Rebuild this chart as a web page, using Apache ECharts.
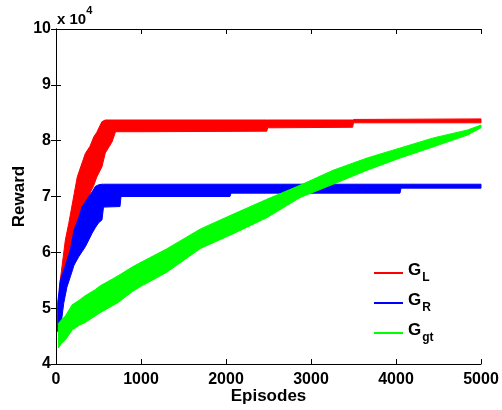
<!DOCTYPE html>
<html>
<head>
<meta charset="utf-8">
<script src="https://cdn.jsdelivr.net/npm/echarts@6/dist/echarts.min.js"></script>
<style>
  html, body { margin: 0; padding: 0; background: #fff; }
  #chart { width: 502px; height: 410px; }
</style>
</head>
<body>
<div id="chart"></div>
<script>
// tick labels
const xTicks = [0, 1000, 2000, 3000, 4000, 5000];
const yTicks = [4, 5, 6, 7, 8, 9, 10];

// G_L (red): episodes with lower / upper edge of the noisy band (x 10^4)
const redEp = [40, 70, 110, 150, 250, 345, 400, 445, 480, 540, 580, 660, 700, 1000, 2480, 2490, 3490, 3500, 5000];
const redLow = [5.0, 5.2, 5.5, 5.8, 6.3, 6.76, 7.06, 7.2, 7.35, 7.53, 7.78, 7.98, 8.16, 8.16, 8.17, 8.23, 8.24, 8.32, 8.32];
const redHigh = [5.38, 5.74, 6.22, 6.52, 7.35, 7.77, 7.9, 8.07, 8.15, 8.34, 8.37, 8.37, 8.37, 8.37, 8.37, 8.37, 8.37, 8.38, 8.39];

// G_R (blue)
const blueEp = [20, 51, 91, 129, 168, 212, 267, 306, 345, 385, 424, 462, 502, 541, 559, 753, 765, 2047, 2059, 4047, 4059, 5000];
const blueLow = [4.58, 4.61, 5.09, 5.38, 5.56, 5.77, 5.92, 6.01, 6.1, 6.22, 6.34, 6.44, 6.53, 6.58, 6.81, 6.82, 7.0, 7.0, 7.06, 7.06, 7.15, 7.15];
const blueHigh = [5.1, 5.5, 5.68, 5.86, 6.04, 6.4, 6.62, 6.82, 6.9, 7.0, 7.08, 7.18, 7.21, 7.22, 7.22, 7.22, 7.22, 7.22, 7.22, 7.22, 7.22, 7.22];

// G_gt (green)
const greenEp = [30, 70, 110, 190, 280, 340, 460, 520, 660, 730, 900, 1010, 1300, 1700, 2080, 2480, 2870, 3260, 3660, 4050, 4440, 4840, 5000];
const greenLow = [4.29, 4.38, 4.43, 4.61, 4.7, 4.74, 4.86, 4.92, 5.04, 5.1, 5.3, 5.4, 5.64, 6.07, 6.33, 6.62, 6.98, 7.22, 7.47, 7.69, 7.89, 8.1, 8.23];
const greenHigh = [4.73, 4.8, 4.86, 5.06, 5.15, 5.22, 5.33, 5.4, 5.52, 5.58, 5.74, 5.83, 6.06, 6.42, 6.68, 6.95, 7.2, 7.47, 7.69, 7.87, 8.05, 8.19, 8.28];

const FONT = 'Liberation Sans, Arial, sans-serif';
const chart = echarts.init(document.getElementById('chart'));

// band = upper edge left->right, then lower edge right->left
function band(name, color, ep, low, high) {
  return {
    name: name,
    type: 'custom',
    color: color,
    encode: { x: 0, y: 1 },
    data: [[ep[0], low[0]]],
    renderItem: function (params, api) {
      const pts = [];
      for (let i = 0; i < ep.length; i++) pts.push(api.coord([ep[i], high[i]]));
      for (let i = ep.length - 1; i >= 0; i--) pts.push(api.coord([ep[i], low[i]]));
      return {
        type: 'polygon',
        shape: { points: pts },
        style: { fill: color, stroke: color, lineWidth: 1 }
      };
    }
  };
}

const subs = { GL: 'L', GR: 'R', Ggt: 'gt' };

const boxAxisLine = { show: true, lineStyle: { color: '#000', width: 1 } };
const boxTick = { show: true, inside: true, length: 5, lineStyle: { color: '#000' } };
const tickLabel = { color: '#000', fontSize: 16, fontWeight: 'bold', fontFamily: FONT, formatter: function (v) { return String(v); } };

const option = {
  animation: false,
  grid: { left: 56, right: 21, top: 29, bottom: 46, outerBoundsMode: 'none', containLabel: false },
  legend: {
    orient: 'vertical',
    left: 369,
    top: 257,
    itemWidth: 29,
    itemHeight: 2,
    itemGap: 8,
    icon: 'rect',
    data: ['GL', 'GR', 'Ggt'],
    formatter: function (name) { return '{g|G}{s|' + subs[name] + '}'; },
    textStyle: {
      rich: {
        g: { fontSize: 17, fontWeight: 'bold', color: '#000', fontFamily: FONT, verticalAlign: 'top' },
        s: { fontSize: 12, fontWeight: 'bold', color: '#000', fontFamily: FONT, verticalAlign: 'top', padding: [10, 0, 0, 1] }
      }
    }
  },
  graphic: [{
    type: 'text',
    left: 57,
    top: 5,
    style: {
      text: '{a|x 10}{b|4}',
      rich: {
        a: { fontSize: 15, fontWeight: 'bold', fill: '#000', fontFamily: FONT, verticalAlign: 'top', padding: [7, 0, 0, 0] },
        b: { fontSize: 11, fontWeight: 'bold', fill: '#000', fontFamily: FONT, verticalAlign: 'top' }
      }
    }
  }],
  xAxis: [{
    type: 'value',
    min: xTicks[0],
    max: xTicks[xTicks.length - 1],
    interval: 1000,
    position: 'bottom',
    axisLine: boxAxisLine,
    axisTick: boxTick,
    splitLine: { show: false },
    axisLabel: Object.assign({ margin: 8 }, tickLabel),
    name: 'Episodes',
    nameLocation: 'middle',
    nameGap: 24,
    nameMoveOverlap: false,
    nameTextStyle: { color: '#000', fontSize: 17, fontWeight: 'bold', fontFamily: FONT }
  }, {
    type: 'value',
    min: xTicks[0],
    max: xTicks[xTicks.length - 1],
    interval: 1000,
    position: 'top',
    axisLine: boxAxisLine,
    axisTick: boxTick,
    splitLine: { show: false },
    axisLabel: { show: false }
  }],
  yAxis: [{
    type: 'value',
    min: yTicks[0],
    max: yTicks[yTicks.length - 1],
    interval: 1,
    position: 'left',
    axisLine: boxAxisLine,
    axisTick: boxTick,
    splitLine: { show: false },
    axisLabel: Object.assign({ margin: 5 }, tickLabel),
    name: 'Reward',
    nameLocation: 'middle',
    nameGap: 28,
    nameMoveOverlap: false,
    nameTextStyle: { color: '#000', fontSize: 17, fontWeight: 'bold', fontFamily: FONT }
  }, {
    type: 'value',
    min: yTicks[0],
    max: yTicks[yTicks.length - 1],
    interval: 1,
    position: 'right',
    axisLine: boxAxisLine,
    axisTick: boxTick,
    splitLine: { show: false },
    axisLabel: { show: false }
  }],
  series: [
    band('GL', '#ff0000', redEp, redLow, redHigh),
    band('GR', '#0000ff', blueEp, blueLow, blueHigh),
    band('Ggt', '#00ff00', greenEp, greenLow, greenHigh)
  ]
};

chart.setOption(option);
</script>
</body>
</html>
